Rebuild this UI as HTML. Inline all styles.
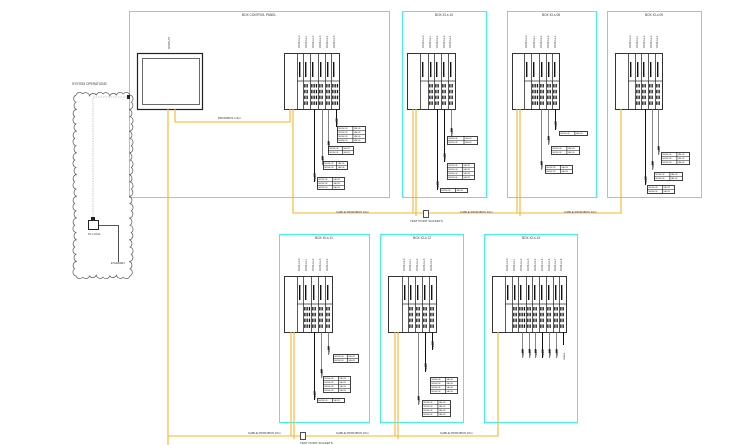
<!DOCTYPE html>
<html><head><meta charset="utf-8">
<style>
html,body{margin:0;padding:0;background:#fff;width:755px;height:445px;overflow:hidden}
svg{display:block}
text{font-family:"Liberation Sans",sans-serif;fill:#333}
</style></head>
<body>
<svg id="s" width="755" height="445" viewBox="0 0 755 445" xmlns="http://www.w3.org/2000/svg">
<g fill="none" stroke="#3ef0f0" stroke-width="1">
<rect x="129.5" y="11.5" width="260" height="186"/>
<rect x="402.5" y="11.5" width="84" height="186"/>
<rect x="507.5" y="11.5" width="89" height="186"/>
<rect x="607.5" y="11.5" width="94" height="186"/>
<rect x="279.5" y="234.5" width="90" height="188"/>
<rect x="380.5" y="234.5" width="83" height="188"/>
<rect x="484.5" y="234.5" width="93" height="188"/>
</g>
<g font-size="3.2" text-anchor="middle">
<text x="259" y="16">BOX CONTROL PANEL</text>
<text x="444" y="16">BOX IO-s 10</text>
<text x="551" y="16">BOX IO-s 08</text>
<text x="654" y="16">BOX IO-s 09</text>
<text x="324" y="239">BOX IO-s 11</text>
<text x="422" y="239">BOX IO-s 12</text>
<text x="531" y="239">BOX IO-s 13</text>
</g>
<rect x="137.5" y="53.5" width="65" height="56" fill="none" stroke="#222" stroke-width="1.2"/>
<rect x="142.5" y="58.5" width="57" height="46" fill="none" stroke="#444" stroke-width="0.8"/>
<text x="170" y="49" font-size="3" transform="rotate(-90 170 49)">DISPLAY</text>
<text x="72" y="85" font-size="3.2">SYSTEM OPERATIONS</text>
<path d="M93 222 V97 H129" fill="none" stroke="#bbb" stroke-width="0.8" stroke-dasharray="1.5,1"/>
<rect x="127" y="95" width="3" height="4" fill="#222"/>
<rect x="88.5" y="220.5" width="10" height="9" fill="#fff" stroke="#222"/>
<rect x="91" y="217" width="4" height="3" fill="#222"/>
<path d="M98.5 225.5 H118.5 V262" fill="none" stroke="#222" stroke-width="0.8"/>
<text x="88" y="235" font-size="2.6">PC LOCAL</text>
<text x="111" y="264" font-size="2.6">ETHERNET</text>
<g id="cloud" fill="none" stroke="#555" stroke-width="0.7"></g>
<g id="dyn"></g>
<g fill="none" stroke="#f7b52a" stroke-width="1.1">
<path d="M168 109 V445"/>
<path d="M175 109 V122 H290 V109"/>
<path d="M293 109 V213 H621 V109"/>
<path d="M413 213 V109 M416 216 V109"/>
<path d="M517 213 V109 M520 216 V109"/>
<path d="M168 436 H498 V332"/>
<path d="M291 436 V332 M294 439 V332"/>
<path d="M395 436 V332 M398 439 V332"/>
</g>
<rect x="423.5" y="210.5" width="5" height="7" fill="#fff" stroke="#222" stroke-width="0.8"/>
<rect x="300.5" y="432.5" width="5" height="7" fill="#fff" stroke="#222" stroke-width="0.8"/>
<g font-size="3">
<text x="218" y="119">PROFIBUS 1.5m</text>
<text x="336" y="213">CABLE PROFIBUS 10m</text>
<text x="460" y="213">CABLE PROFIBUS 10m</text>
<text x="564" y="213">CABLE PROFIBUS 10m</text>
<text x="410" y="222">TEST POINT SOCKETS</text>
<text x="248" y="434">CABLE PROFIBUS 10m</text>
<text x="336" y="434">CABLE PROFIBUS 10m</text>
<text x="440" y="434">CABLE PROFIBUS 10m</text>
<text x="300" y="444">TEST POINT SOCKETS</text>
</g>
</svg>
<script>
var NS="http://www.w3.org/2000/svg",dyn=document.getElementById("dyn");
function el(t,a,p){var e=document.createElementNS(NS,t);for(var k in a)e.setAttribute(k,a[k]);(p||dyn).appendChild(e);return e;}
function txt(x,y,s,fs,rot){var e=el("text",{x:x,y:y,"font-size":fs||2.6});if(rot)e.setAttribute("transform","rotate(-90 "+x+" "+y+")");e.textContent=s;return e;}
(function(){var c=document.getElementById("cloud");var x0=76,y0=95,x1=130,y1=276,r=4;
var pts=[];function seg(ax,ay,bx,by){var L=Math.hypot(bx-ax,by-ay),n=Math.max(1,Math.round(L/(2*r*0.9)));for(var i=0;i<n;i++){var j=(i%3==1)?1.2:((i%3==2)?-0.8:0);var nx=(by-ay)/L,ny=-(bx-ax)/L;pts.push([ax+(bx-ax)*i/n+nx*j,ay+(by-ay)*i/n+ny*j]);}}
seg(x0,y0,x1,y0);seg(x1,y0,x1,y1);seg(x1,y1,x0,y1);seg(x0,y1,x0,y0);
var d="M"+pts[0][0]+" "+pts[0][1];for(var i=1;i<=pts.length;i++){var p=pts[i%pts.length];d+=" A"+r+" "+r+" 0 0 1 "+p[0]+" "+p[1];}
el("path",{d:d},c);})();
function rack(x0,x1,y0,y1,cols,mods){
 el("rect",{x:x0+.5,y:y0+.5,width:x1-x0,height:y1-y0,fill:"none",stroke:"#333","stroke-width":1});
 for(var i=0;i<cols.length;i++){el("line",{x1:cols[i]+.5,y1:y0,x2:cols[i]+.5,y2:y1,stroke:"#333","stroke-width":0.8});
  el("rect",{x:cols[i]+2,y:y0+9,width:1.4,height:15,fill:"#111"});}
 var dy=y0+(y1-y0)*0.5;
 el("line",{x1:cols[0],y1:dy,x2:x1,y2:dy,stroke:"#333","stroke-width":0.8});
 for(var i=1;i<cols.length;i++){var a=cols[i],b=(i+1<cols.length?cols[i+1]:x1);
  for(var k=0;k<4;k++){var yy=dy+3+k*5.8;for(var xx=a+1.2;xx<b-1.2;xx+=2.3){el("rect",{x:xx,y:yy,width:1.3,height:3.5,fill:"#111"});}}}
 for(var i=0;i<mods.length;i++){txt(mods[i],y0-5,"MODULE-"+i,2.4,true);}
}
function wire(x,y0,y1,dark){el("line",{x1:x+.5,y1:y0,x2:x+.5,y2:y1,stroke:dark?"#111":"#666","stroke-width":dark?1:0.8});
 el("rect",{x:x-.3,y:y1-9,width:1.6,height:4,fill:"#222"});txt(x+1.8,y1-1,"CABLE",2.2,true);}
function table(x,y,w,rows){el("rect",{x:x+.5,y:y+.5,width:w,height:rows*4,fill:"#fff",stroke:"#111","stroke-width":0.8});
 el("line",{x1:x+w*0.55+.5,y1:y,x2:x+w*0.55+.5,y2:y+rows*4,stroke:"#111","stroke-width":0.6});
 for(var r=1;r<rows;r++)el("line",{x1:x,y1:y+r*4+.5,x2:x+w,y2:y+r*4+.5,stroke:"#111","stroke-width":0.5});
 for(var r=0;r<rows;r++){txt(x+1.2,y+r*4+3.2,"SENSOR",2.2);txt(x+w*0.55+1.5,y+r*4+3.2,"VALVE",2.2);}}
rack(284,339,53,109,[297,303,310,318,325,331],[300,307,314,321,328,335]);
wire(314,109,182,1);wire(322,109,165);wire(328,109,150);wire(336,109,127,1);
table(337,126,28,4);table(328,146,25,2);table(323,161,24,2);table(317,177,27,3);
rack(407,455,53,109,[420,428,434,441,448],[424,431,438,445,451]);
wire(437,109,190,1);wire(444,109,162,1);wire(451,109,137);
table(447,136,30,2);table(447,163,27,4);table(440,188,27,1);
rack(512,559,53,109,[524,531,539,546,552],[527,535,542,549,556]);
wire(541,109,170);wire(548,109,145);wire(555,109,130,1);
table(545,165,27,2);table(551,146,28,2);table(559,131,28,1);
rack(615,662,53,109,[628,635,641,648,655],[631,638,645,652,658]);
wire(645,109,185,1);wire(652,109,170);wire(658,109,155);
table(647,185,27,2);table(654,172,28,2);table(661,152,28,3);
rack(284,332,276,332,[297,303,311,318,325],[300,307,314,321,328]);
wire(314,332,400,1);wire(321,332,378);wire(328,332,355);
table(317,398,27,1);table(323,376,27,4);table(333,354,25,2);
rack(388,436,276,332,[402,408,415,422,429],[405,411,418,425,432]);
wire(418,332,405);wire(425,332,372,1);wire(432,332,350,1);
table(422,400,28,4);table(430,377,27,4);
rack(492,566,276,332,[505,512,518,526,532,539,546,553,559],[508,515,522,529,536,543,550,556,562]);
[522,529,535,542,549,556].forEach(function(x){wire(x,332,358,x==542);});
el("line",{x1:563.5,y1:332,x2:563.5,y2:345,stroke:"#111","stroke-width":1});txt(565,360,"SPARE",2.2,true);
</script>
</body></html>
